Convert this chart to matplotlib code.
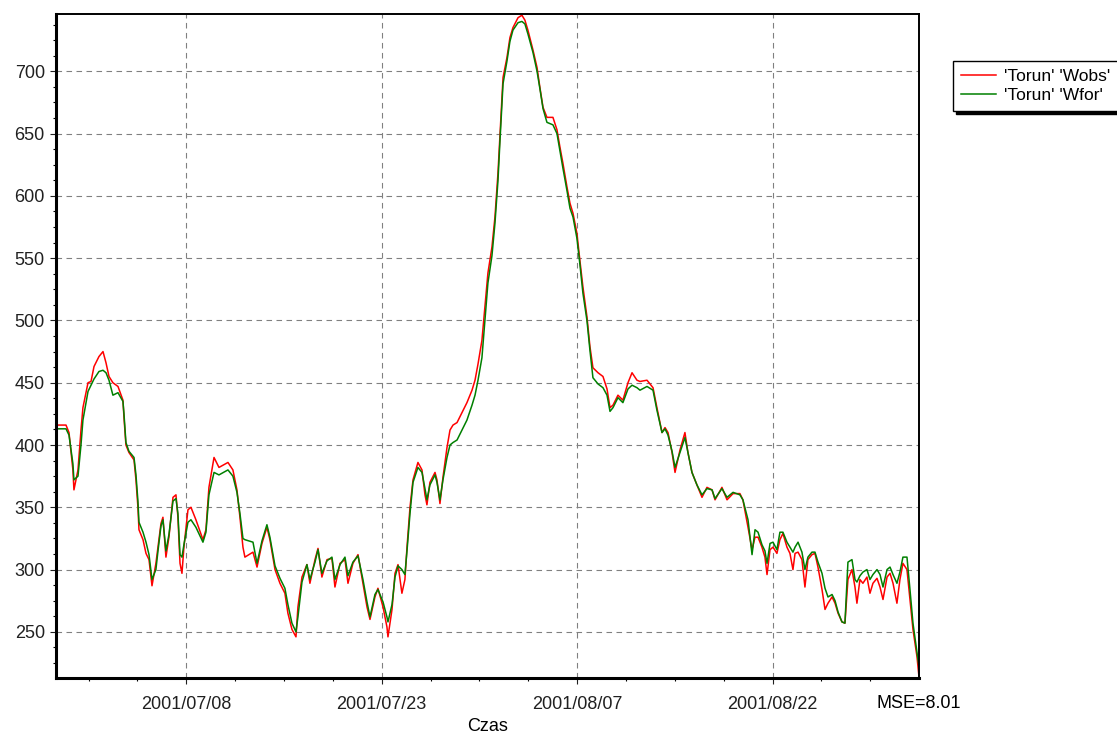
import numpy as np
import matplotlib
matplotlib.use('Agg')
import matplotlib.pyplot as plt
from matplotlib.ticker import FixedLocator, MultipleLocator

plt.rcParams['font.family'] = ['Liberation Sans', 'DejaVu Sans']

# time in days since 2001/06/28 00:00
days = [0.00, 0.77, 1.00, 1.30, 1.38, 1.69, 1.92, 2.07, 2.46, 2.69, 2.92, 3.30, 3.61, 3.84, 4.07, 4.37,
        4.76, 5.14, 5.22, 5.37, 5.60, 5.99, 6.14, 6.29, 6.37, 6.68, 6.91, 7.14, 7.37, 7.67, 7.83, 8.06,
        8.21, 8.44, 8.67, 8.98, 9.21, 9.36, 9.52, 9.67, 9.82, 10.13, 10.36, 10.74, 11.28, 11.51, 11.74,
        12.13, 12.51, 13.20, 13.58, 13.89, 14.12, 14.35, 14.50, 15.12, 15.43, 15.81, 16.19, 16.42, 16.81,
        17.19, 17.57, 17.80, 18.11, 18.42, 18.57, 18.88, 19.26, 19.49, 19.88, 20.11, 20.41, 20.80, 21.18,
        21.41, 21.80, 22.18, 22.41, 22.79, 23.18, 23.56, 23.87, 24.10, 24.48, 24.71, 25.10, 25.40, 25.48,
        25.79, 26.02, 26.25, 26.55, 26.78, 26.94, 27.17, 27.40, 27.78, 28.09, 28.32, 28.47, 28.70, 29.09,
        29.24, 29.47, 29.70, 30.01, 30.24, 30.47, 30.78, 31.16, 31.54, 31.93, 32.16, 32.39, 32.69, 32.92,
        33.15, 33.46, 33.69, 33.92, 34.08, 34.31, 34.61, 34.84, 35.07, 35.46, 35.76, 35.99, 36.22, 36.61,
        36.92, 37.14, 37.38, 37.68, 38.14, 38.45, 38.68, 38.91, 39.22, 39.45, 39.68, 39.98, 40.21, 40.44,
        40.75, 40.98, 41.21, 41.60, 41.98, 42.29, 42.52, 42.75, 43.13, 43.51, 43.90, 44.21, 44.59, 44.82,
        45.36, 45.82, 46.12, 46.51, 46.74, 46.97, 47.28, 47.51, 47.89, 48.27, 48.50, 48.81, 49.19, 49.58,
        49.96, 50.35, 50.58, 51.11, 51.50, 51.96, 52.49, 52.72, 53.11, 53.42, 53.65, 53.88, 54.18, 54.41,
        54.57, 54.80, 55.03, 55.33, 55.56, 55.79, 56.10, 56.33, 56.56, 56.72, 56.95, 57.25, 57.48, 57.71,
        58.02, 58.25, 58.48, 58.79, 59.02, 59.25, 59.56, 59.79, 60.02, 60.32, 60.55, 60.78, 61.09, 61.32,
        61.47, 61.70, 61.93, 62.24, 62.47, 62.70, 63.01, 63.24, 63.47, 63.78, 64.01, 64.24, 64.54, 64.77,
        65.00, 65.31, 65.54, 65.77, 66.08, 66.23]

# observed water level
wobs = [416, 416, 410, 380, 364, 380, 412, 430, 450, 451, 463, 471, 475, 466, 455, 450,
        447, 436, 422, 400, 394, 388, 372, 350, 332, 324, 313, 308, 287, 305, 318, 337,
        342, 310, 326, 358, 360, 342, 305, 297, 318, 348, 350, 340, 324, 332, 366,
        390, 382, 386, 380, 364, 342, 318, 310, 314, 302, 321, 334, 324, 300,
        289, 281, 265, 252, 246, 270, 294, 304, 289, 308, 317, 294, 308, 309,
        286, 305, 308, 289, 305, 312, 289, 270, 260, 278, 285, 270, 254, 246,
        268, 297, 304, 281, 292, 318, 350, 372, 386, 380, 360, 352, 370, 378,
        372, 353, 374, 398, 412, 416, 418, 426, 434, 444, 452, 465, 484, 511,
        538, 559, 583, 618, 650, 695, 711, 727, 735, 743, 745, 741, 733, 717,
        703, 687, 671, 663, 663, 653, 639, 626, 607, 594, 586, 570, 548, 527,
        503, 479, 462, 458, 455, 445, 430, 432, 440, 436, 450, 458, 452, 451,
        452, 446, 430, 410, 414, 410, 394, 378, 396, 410, 394, 378, 368, 358,
        366, 364, 356, 366, 356, 361, 361, 356, 334, 316, 326, 326, 318, 310,
        296, 316, 318, 313, 324, 329, 318, 313, 300, 313, 314, 308, 286, 308,
        312, 313, 302, 284, 268, 273, 278, 273, 265, 258, 257, 292, 300, 286,
        273, 292, 289, 294, 281, 289, 293, 286, 276, 294, 297, 289, 273, 292,
        305, 300, 276, 252, 230, 214]

# forecast water level
wfor = [413, 413, 408, 385, 372, 375, 400, 420, 443, 448, 453, 459, 460, 458, 452, 440,
        442, 435, 425, 402, 395, 390, 376, 355, 338, 330, 322, 312, 292, 300, 315, 335,
        340, 315, 328, 355, 357, 345, 312, 310, 320, 338, 340, 334, 322, 330, 360,
        378, 376, 380, 375, 362, 345, 325, 324, 322, 305, 323, 336, 326, 303,
        293, 285, 272, 257, 250, 262, 290, 304, 292, 306, 316, 297, 307, 310,
        292, 304, 310, 295, 306, 311, 292, 274, 262, 280, 284, 274, 262, 258,
        272, 294, 303, 300, 296, 315, 345, 370, 382, 378, 365, 356, 368, 376,
        370, 356, 372, 390, 400, 402, 404, 412, 420, 432, 440, 452, 470, 500,
        530, 552, 578, 612, 645, 690, 708, 724, 733, 739, 740, 738, 730, 715,
        700, 686, 670, 659, 657, 650, 636, 622, 604, 590, 583, 566, 545, 522,
        500, 476, 454, 449, 446, 440, 427, 430, 438, 434, 445, 448, 446, 444,
        447, 444, 428, 410, 413, 408, 395, 382, 394, 406, 394, 378, 368, 360,
        365, 364, 357, 365, 358, 362, 360, 356, 340, 312, 332, 330, 320, 315,
        305, 321, 322, 316, 330, 330, 322, 318, 314, 318, 322, 314, 300, 310,
        314, 314, 306, 297, 285, 278, 280, 275, 266, 258, 257, 306, 308, 292,
        290, 295, 298, 300, 292, 296, 300, 296, 286, 300, 302, 296, 289, 298,
        310, 310, 284, 257, 233, 222]

date_ticks = [10, 25, 40, 55]
date_labels = ['2001/07/08', '2001/07/23', '2001/08/07', '2001/08/22']

fig = plt.figure(figsize=(11.17, 7.35), dpi=100)
ax = fig.add_axes([0.0501, 0.0776, 0.7726, 0.9034])

ax.plot(days, wobs, color='#ff0000', lw=1.1, label="'Torun' 'Wobs'")
ax.plot(days, wfor, color='#008000', lw=1.1, label="'Torun' 'Wfor'")

ax.set_xlim(0, 66.23)
ax.set_ylim(213, 746)

ax.set_xticks(date_ticks)
ax.set_xticklabels(date_labels)
ax.xaxis.set_minor_locator(FixedLocator([10 + 3.75 * k for k in range(-2, 15)]))
ax.set_yticks([250, 300, 350, 400, 450, 500, 550, 600, 650, 700])
ax.yaxis.set_minor_locator(MultipleLocator(12.5))

ax.grid(True, which='major', color='#808080', linestyle=(0, (5, 4)), lw=0.8)
ax.tick_params(which='major', length=4, width=0.8, labelsize=13, colors='#202020', pad=4)
ax.tick_params(which='minor', length=2, width=0.8)
ax.tick_params(axis='x', which='major', pad=9)

for side in ['left', 'bottom']:
    ax.spines[side].set_linewidth(2.2)
for side in ['top', 'right']:
    ax.spines[side].set_linewidth(1.4)

ax.set_xlabel('Czas', fontsize=13, labelpad=3.5)
fig.text(876 / 1117, 1 - 703 / 735, 'MSE=8.01', fontsize=13, va='center', ha='left')

leg = ax.legend(loc='upper left', bbox_to_anchor=(953 / 1117, 1 - 61 / 735),
                bbox_transform=fig.transFigure, fontsize=12.5, frameon=True, fancybox=False,
                shadow={'color': 'black', 'alpha': 1}, borderaxespad=0, handlelength=2.0,
                labelspacing=0.25, borderpad=0.45, handletextpad=0.5)
leg.get_frame().set_edgecolor('black')
leg.get_frame().set_linewidth(1.0)

fig.savefig('out.png', dpi=100)
